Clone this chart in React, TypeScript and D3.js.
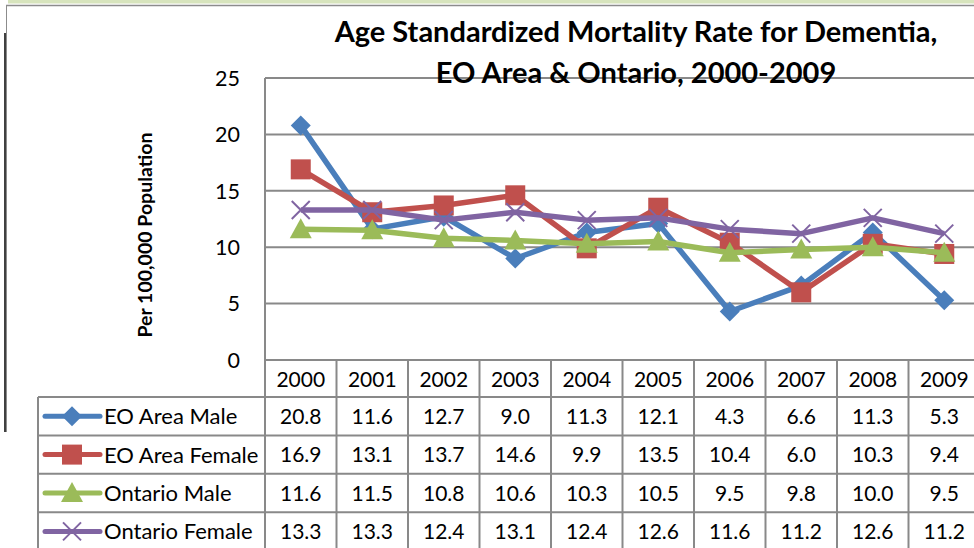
import React from "react";
import * as d3 from "d3";

const years = ["2000", "2001", "2002", "2003", "2004", "2005", "2006", "2007", "2008", "2009"];
const eoMale = [20.8, 11.6, 12.7, 9.0, 11.3, 12.1, 4.3, 6.6, 11.3, 5.3];
const eoFemale = [16.9, 13.1, 13.7, 14.6, 9.9, 13.5, 10.4, 6.0, 10.3, 9.4];
const onMale = [11.6, 11.5, 10.8, 10.6, 10.3, 10.5, 9.5, 9.8, 10.0, 9.5];
const onFemale = [13.3, 13.3, 12.4, 13.1, 12.4, 12.6, 11.6, 11.2, 12.6, 11.2];
const seriesNames = ["EO Area Male", "EO Area Female", "Ontario Male", "Ontario Female"];
const yTicks = [0, 5, 10, 15, 20, 25];
const titleLines = ["Age Standardized Mortality Rate for Dementia,", "EO Area & Ontario, 2000-2009"];
const yLabel = "Per 100,000 Population";

const colors = ["#4a7ebb", "#c0504d", "#9bbb59", "#8064a2"];
const markers = ["diamond", "square", "triangle", "x"];
const FONT = "Lato, 'Open Sans', sans-serif";

function Marker({ type, x, y, color }: { type: string; x: number; y: number; color: string }) {
  if (type === "diamond") {
    const r = 10;
    return <path d={`M${x},${y - r}L${x + r},${y}L${x},${y + r}L${x - r},${y}Z`} fill={color} />;
  }
  if (type === "square") {
    const s = 10;
    return <rect x={x - s} y={y - s} width={2 * s} height={2 * s} fill={color} />;
  }
  if (type === "triangle") {
    const r = 10;
    return <path d={`M${x},${y - r - 1}L${x + r + 1},${y + r - 1}L${x - r - 1},${y + r - 1}Z`} fill={color} />;
  }
  const r = 9;
  return (
    <path d={`M${x - r},${y - r}L${x + r},${y + r}M${x - r},${y + r}L${x + r},${y - r}`} stroke={color} strokeWidth={2} fill="none" />
  );
}

export default function App() {
  const data = [eoMale, eoFemale, onMale, onFemale];
  const plotLeft = 265;
  const plotRight = 980;
  const x = d3.scaleBand<string>().domain(years).range([plotLeft, plotRight]).padding(0);
  const bw = x.bandwidth();
  const cx = (yr: string) => (x(yr) as number) + bw / 2;
  const y = d3.scaleLinear().domain([0, 25]).range([360, 78]);
  const line = d3
    .line<number>()
    .x((_, i) => cx(years[i]))
    .y((d) => y(d));

  const tableLeft = 38;
  const headerTop = 360;
  const headerBottom = 397;
  const rowH = 38.4;
  const gridColor = "#898989";

  return (
    <svg width={974} height={548} style={{ position: "absolute", left: 0, top: 0, background: "#fff" }}>
      <rect x={0} y={0} width={974} height={548} fill="#fff" />
      <rect x={8} y={0} width={966} height={3.5} fill="#d7e4bd" />
      <line x1={6} x2={974} y1={5.5} y2={5.5} stroke="#8c8c8c" strokeWidth={1.5} />
      <line x1={6.5} x2={6.5} y1={5} y2={432} stroke="#8c8c8c" strokeWidth={1} />
      <line x1={5} x2={5} y1={33} y2={432} stroke="#000" strokeWidth={1.5} />

      {/* gridlines */}
      {yTicks.map((t) => (
        <line key={t} x1={plotLeft} x2={plotRight} y1={y(t)} y2={y(t)} stroke={gridColor} strokeWidth={2} />
      ))}
      <line x1={plotLeft} x2={plotLeft} y1={y(25)} y2={548} stroke={gridColor} strokeWidth={2} />

      {/* y ticks */}
      {yTicks.map((t) => (
        <text key={t} x={240} y={y(t)} dy="0.36em" textAnchor="end" fontFamily={FONT} fontSize={21.5} fill="#000">
          {t}
        </text>
      ))}

      {/* y label */}
      <text
        transform={`translate(152,235) rotate(-90)`}
        textAnchor="middle"
        fontFamily={FONT}
        fontWeight="bold"
        fontSize={19.5}
        fill="#000"
      >
        {yLabel}
      </text>

      {/* title */}
      {titleLines.map((t, i) => (
        <text key={i} x={636} y={42 + i * 41} textAnchor="middle" fontFamily={FONT} fontWeight="bold" fontSize={29} fill="#000">
          {t}
        </text>
      ))}

      {/* lines */}
      {data.map((s, si) => (
        <g key={si}>
          <path d={line(s) || ""} fill="none" stroke={colors[si]} strokeWidth={5.5} strokeLinejoin="round" />
          {s.map((v, i) => (
            <Marker key={i} type={markers[si]} x={cx(years[i])} y={y(v)} color={colors[si]} />
          ))}
        </g>
      ))}

      {/* table */}
      {years.map((yr) => (
        <line key={"v" + yr} x1={(x(yr) as number) + bw} x2={(x(yr) as number) + bw} y1={headerTop} y2={548} stroke={gridColor} strokeWidth={2} />
      ))}
      <line x1={tableLeft} x2={tableLeft} y1={headerBottom} y2={548} stroke={gridColor} strokeWidth={2} />
      {seriesNames.map((_, i) => (
        <line key={"h" + i} x1={tableLeft} x2={plotRight} y1={headerBottom + i * rowH} y2={headerBottom + i * rowH} stroke={gridColor} strokeWidth={2} />
      ))}
      {years.map((yr) => (
        <text key={"t" + yr} x={cx(yr)} y={387} textAnchor="middle" fontFamily={FONT} fontSize={21} fill="#000">
          {yr}
        </text>
      ))}
      {seriesNames.map((name, si) => {
        const rc = headerBottom + si * rowH + rowH / 2;
        return (
          <g key={"r" + si}>
            <line x1={45} x2={100} y1={rc} y2={rc} stroke={colors[si]} strokeWidth={5} strokeLinecap="round" />
            <Marker type={markers[si]} x={72} y={rc} color={colors[si]} />
            <text x={104} y={rc} dy="0.36em" fontFamily={FONT} fontSize={22} fill="#000">
              {name}
            </text>
            {data[si].map((v, i) => (
              <text key={i} x={cx(years[i])} y={rc} dy="0.36em" textAnchor="middle" fontFamily={FONT} fontSize={21} fill="#000">
                {v.toFixed(1)}
              </text>
            ))}
          </g>
        );
      })}
    </svg>
  );
}
